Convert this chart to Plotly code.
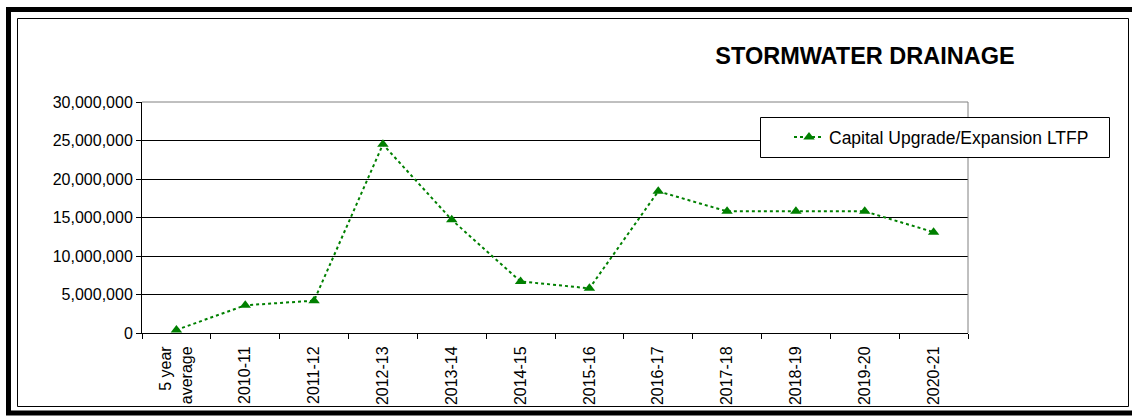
import plotly.graph_objects as go

categories = ["5 year<br>average", "2010-11", "2011-12", "2012-13", "2013-14", "2014-15",
              "2015-16", "2016-17", "2017-18", "2018-19", "2019-20", "2020-21"]
capital_upgrade = [400000, 3600000, 4200000, 24500000, 14700000, 6700000,
                   5800000, 18400000, 15800000, 15800000, 15800000, 13100000]
series_name = "Capital Upgrade/Expansion LTFP"
chart_title = "STORMWATER DRAINAGE"

W, H = 1132, 417
L, R, T, B = 142, 968, 102, 333  # plot area in pixels


def px_x(px):
    return (px - L) / (R - L)


def px_y(py):
    return (B - py) / (B - T)


font_family = "Liberation Sans, Arial, sans-serif"
green = "#008000"

fig = go.Figure()
fig.add_trace(go.Scatter(
    x=categories,
    y=capital_upgrade,
    name=series_name,
    mode="lines+markers",
    line=dict(color=green, width=2, dash="dot"),
    marker=dict(symbol="triangle-up", size=10, color=green),
    showlegend=True,
))

# frame around the whole chart
fig.add_shape(type="rect", xref="paper", yref="paper",
              x0=px_x(8.5), x1=px_x(1145), y0=px_y(9.5), y1=px_y(413),
              line=dict(color="black", width=5), layer="below")
fig.add_shape(type="rect", xref="paper", yref="paper",
              x0=px_x(17.5), x1=px_x(1128.5), y0=px_y(18.5), y1=px_y(406.5),
              line=dict(color="black", width=1), layer="below")

# gray top/right edges of the plot area
fig.add_shape(type="line", xref="paper", yref="paper", x0=0, x1=1, y0=1, y1=1,
              line=dict(color="#808080", width=1), layer="above")
fig.add_shape(type="line", xref="paper", yref="paper", x0=1, x1=1, y0=0, y1=1,
              line=dict(color="#808080", width=1), layer="above")

# legend box
fig.add_shape(type="rect", xref="paper", yref="paper",
              x0=px_x(760.5), x1=px_x(1109.5), y0=px_y(117.5), y1=px_y(157.5),
              line=dict(color="black", width=1), fillcolor="white", layer="above")

fig.update_layout(
    width=W, height=H,
    margin=dict(l=L, r=W - R, t=T, b=H - B),
    paper_bgcolor="white",
    plot_bgcolor="white",
    font=dict(family=font_family, size=16, color="black"),
    title=dict(text="<b>" + chart_title + "</b>", x=865 / W, xanchor="center",
               y=1 - 56 / H, yanchor="middle",
               font=dict(family=font_family, size=23.5, color="black")),
    showlegend=True,
    legend=dict(x=px_x(789), y=px_y(137), xanchor="left", yanchor="middle",
                bgcolor="rgba(0,0,0,0)", borderwidth=0,
                font=dict(family=font_family, size=17.5, color="black")),
    xaxis=dict(
        type="category", range=[-0.5, len(categories) - 0.5],
        showline=True, linecolor="black", linewidth=1,
        ticks="outside", ticklen=5, tickcolor="black", tickson="boundaries",
        tickangle=-90, showgrid=False, ticklabelstandoff=6,
        tickfont=dict(size=16),
    ),
    yaxis=dict(
        range=[0, 30000000], dtick=5000000, tickformat=",d",
        showline=True, linecolor="black", linewidth=1,
        ticks="outside", ticklen=5, tickcolor="black",
        showgrid=True, gridcolor="black", gridwidth=1,
        zeroline=False,
        tickfont=dict(size=16),
    ),
)

fig.write_html("out.html", config={"displayModeBar": False},
               post_script="document.body.style.margin='0';")
